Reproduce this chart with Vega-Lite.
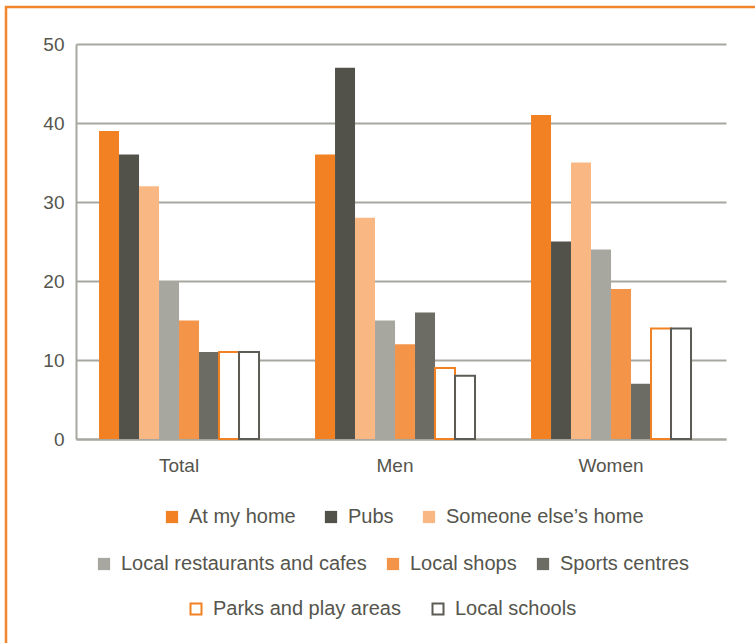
{
  "$schema": "https://vega.github.io/schema/vega-lite/v6.json",
  "width": 749,
  "height": 636,
  "autosize": {"type": "none"},
  "padding": {"left": 6, "top": 7, "right": 0, "bottom": 0},
  "background": "white",
  "data": {
    "values": [
      {"group": "Total", "place": "At my home", "value": 39},
      {"group": "Total", "place": "Pubs", "value": 36},
      {"group": "Total", "place": "Someone else’s home", "value": 32},
      {"group": "Total", "place": "Local restaurants and cafes", "value": 20},
      {"group": "Total", "place": "Local shops", "value": 15},
      {"group": "Total", "place": "Sports centres", "value": 11},
      {"group": "Total", "place": "Parks and play areas", "value": 11},
      {"group": "Total", "place": "Local schools", "value": 11},
      {"group": "Men", "place": "At my home", "value": 36},
      {"group": "Men", "place": "Pubs", "value": 47},
      {"group": "Men", "place": "Someone else’s home", "value": 28},
      {"group": "Men", "place": "Local restaurants and cafes", "value": 15},
      {"group": "Men", "place": "Local shops", "value": 12},
      {"group": "Men", "place": "Sports centres", "value": 16},
      {"group": "Men", "place": "Parks and play areas", "value": 9},
      {"group": "Men", "place": "Local schools", "value": 8},
      {"group": "Women", "place": "At my home", "value": 41},
      {"group": "Women", "place": "Pubs", "value": 25},
      {"group": "Women", "place": "Someone else’s home", "value": 35},
      {"group": "Women", "place": "Local restaurants and cafes", "value": 24},
      {"group": "Women", "place": "Local shops", "value": 19},
      {"group": "Women", "place": "Sports centres", "value": 7},
      {"group": "Women", "place": "Parks and play areas", "value": 14},
      {"group": "Women", "place": "Local schools", "value": 14}
    ]
  },
  "encoding": {
    "x": {
      "field": "group",
      "type": "nominal",
      "sort": ["Total", "Men", "Women"],
      "scale": {"range": [70, 720], "paddingInner": 0.2593, "paddingOuter": 0.1343, "align": 0.397},
      "title": null,
      "axis": {"labelAngle": 0, "labelPadding": 17, "grid": false, "offset": -204}
    },
    "xOffset": {
      "field": "place",
      "type": "nominal",
      "scale": {
        "domain": ["At my home", "Pubs", "Someone else’s home", "Local restaurants and cafes", "Local shops", "Sports centres", "Parks and play areas", "Local schools"],
        "paddingInner": 0,
        "paddingOuter": 0
      }
    },
    "y": {
      "field": "value",
      "type": "quantitative",
      "scale": {"domain": [0, 50], "nice": false, "range": [432, 37]},
      "title": null,
      "axis": {"values": [0, 10, 20, 30, 40, 50], "labelPadding": 12, "grid": true, "offset": -70}
    }
  },
  "layer": [
    {
      "transform": [{"filter": {"field": "place", "oneOf": ["At my home", "Pubs", "Someone else’s home"]}}],
      "mark": {"type": "bar"},
      "encoding": {
        "color": {
          "field": "place",
          "type": "nominal",
          "scale": {"domain": ["At my home", "Pubs", "Someone else’s home"], "range": ["#F18123", "#53524A", "#F9B883"]},
          "legend": {"title": null, "orient": "none", "legendX": 156, "legendY": 500, "columnPadding": 25}
        }
      }
    },
    {
      "transform": [{"filter": {"field": "place", "oneOf": ["Local restaurants and cafes", "Local shops", "Sports centres"]}}],
      "mark": {"type": "bar"},
      "encoding": {
        "color": {
          "field": "place",
          "type": "nominal",
          "scale": {"domain": ["Local restaurants and cafes", "Local shops", "Sports centres"], "range": ["#A8A79F", "#F39448", "#6C6B64"]},
          "legend": {"title": null, "orient": "none", "legendX": 88, "legendY": 547, "columnPadding": 16}
        }
      }
    },
    {
      "transform": [{"filter": {"field": "place", "oneOf": ["Parks and play areas", "Local schools"]}}],
      "mark": {"type": "bar", "fill": "white", "strokeWidth": 2},
      "encoding": {
        "stroke": {
          "field": "place",
          "type": "nominal",
          "scale": {"domain": ["Parks and play areas", "Local schools"], "range": ["#F18123", "#5C5B54"]},
          "legend": {"title": null, "orient": "none", "legendX": 180, "legendY": 592, "columnPadding": 27, "symbolFillColor": "white", "symbolStrokeWidth": 2, "symbolSize": 121}
        }
      }
    }
  ],
  "resolve": {"scale": {"color": "independent"}, "legend": {"color": "independent"}},
  "config": {
    "view": {"stroke": "#F3862C", "strokeWidth": 2.5, "strokeDash": [749, 1385, 640, 20], "fill": "white"},
    "axis": {
      "labelFont": "Liberation Sans",
      "labelFontSize": 19,
      "labelColor": "#55554D",
      "domainColor": "#A8A79F",
      "domainWidth": 2,
      "gridColor": "#A8A79F",
      "gridWidth": 2,
      "ticks": false
    },
    "legend": {
      "direction": "horizontal",
      "padding": 0,
      "labelFont": "Liberation Sans",
      "labelFontSize": 20,
      "labelColor": "#55554D",
      "labelLimit": 400,
      "symbolType": "square",
      "symbolSize": 150,
      "symbolStrokeWidth": 0,
      "labelOffset": 7
    }
  }
}
